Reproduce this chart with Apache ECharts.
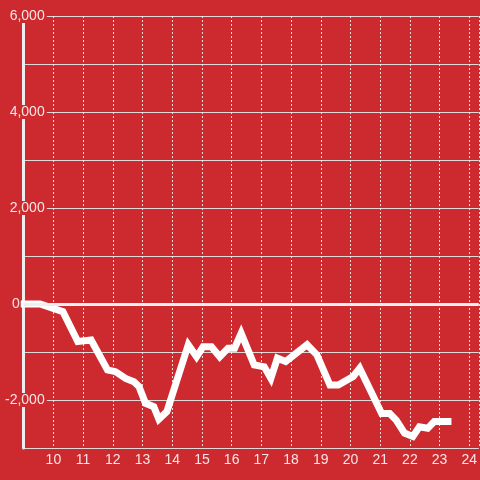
<!DOCTYPE html>
<html>
<head>
<meta charset="utf-8">
<script src="https://cdn.jsdelivr.net/npm/echarts@6/dist/echarts.min.js"></script>
<style>
html,body{margin:0;padding:0;background:#cc2a2f;}
#c{width:480px;height:480px;}
</style>
</head>
<body>
<div id="c"></div>
<script>
// hours
var hours = [8.9, 9.55, 10.32, 10.82, 11.27, 11.82, 12.09, 12.43, 12.71, 12.88, 13.1, 13.38, 13.55, 13.82,
  14.54, 14.82, 15.04, 15.32, 15.6, 15.88, 16.1, 16.32, 16.76, 17.1, 17.32, 17.54, 17.82, 18.54, 18.87,
  19.31, 19.59, 20.09, 20.31, 21.05, 21.32, 21.54, 21.82, 22.1, 22.32, 22.6, 22.82, 23.4];
var values = [0, 0, -160, -780, -750, -1375, -1410, -1550, -1620, -1720, -2070, -2140, -2400, -2240,
  -850, -1100, -890, -890, -1100, -920, -920, -610, -1270, -1310, -1550, -1130, -1200, -850, -1060,
  -1690, -1690, -1510, -1340, -2280, -2280, -2420, -2690, -2760, -2560, -2590, -2450, -2450];
var yLabelValues = [6000, 4000, 2000, 0, -2000];

var BG = '#cc2a2f';
var TXT = 'rgba(255,255,255,0.88)';
var pts = hours.map(function (h, i) { return [h, values[i]]; });

var chart = echarts.init(document.getElementById('c'));
chart.setOption({
  backgroundColor: BG,
  animation: false,
  grid: {left: 20, right: 0, top: 16, bottom: 32},
  xAxis: {
    type: 'value', min: 9, max: 24.32, interval: 1,
    axisLine: {show: false}, axisTick: {show: false},
    splitLine: {show: true, lineStyle: {color: 'rgba(240,240,240,0.9)', type: [2, 2], width: 1}},
    axisLabel: {color: TXT, fontSize: 14, fontFamily: 'Liberation Sans, Arial, sans-serif', margin: 5,
      showMinLabel: false, showMaxLabel: false}
  },
  yAxis: [{
    type: 'value', min: -3000, max: 6000, interval: 1000, position: 'left', z: 0,
    axisLine: {show: true, lineStyle: {color: '#f0eeee', width: 3}},
    axisTick: {show: false},
    axisLabel: {show: false},
    splitLine: {show: true, lineStyle: {color: 'rgba(225,225,225,0.95)', width: 1}}
  }, {
    type: 'value', min: -3000, max: 6000, interval: 1000, position: 'left', z: 3,
    axisLine: {show: false}, axisTick: {show: false}, splitLine: {show: false},
    axisLabel: {
      margin: -23,
      formatter: function (v) {
        if (yLabelValues.indexOf(v) < 0) return '';
        var s = echarts.format.addCommas(v);
        return v === 0 ? '{z|' + s + '}' : '{n|' + s + '}';
      },
      rich: {
        n: {color: TXT, fontSize: 14, fontFamily: 'Liberation Sans, Arial, sans-serif', backgroundColor: BG, padding: [0, 2, 0, 2], lineHeight: 14},
        z: {color: TXT, fontSize: 14, fontFamily: 'Liberation Sans, Arial, sans-serif', padding: [0, 27, 0, 0], lineHeight: 14}
      }
    }
  }],
  series: [{
    type: 'line', data: pts, yAxisIndex: 0, showSymbol: false, clip: false,
    lineStyle: {color: '#ffffff', width: 7, join: 'miter', cap: 'butt'},
    markLine: {
      silent: true, symbol: 'none', label: {show: false},
      lineStyle: {color: '#f0eeee', width: 3, type: 'solid'},
      data: [{yAxis: 0}]
    },
    z: 2
  }]
});
</script>
</body>
</html>
